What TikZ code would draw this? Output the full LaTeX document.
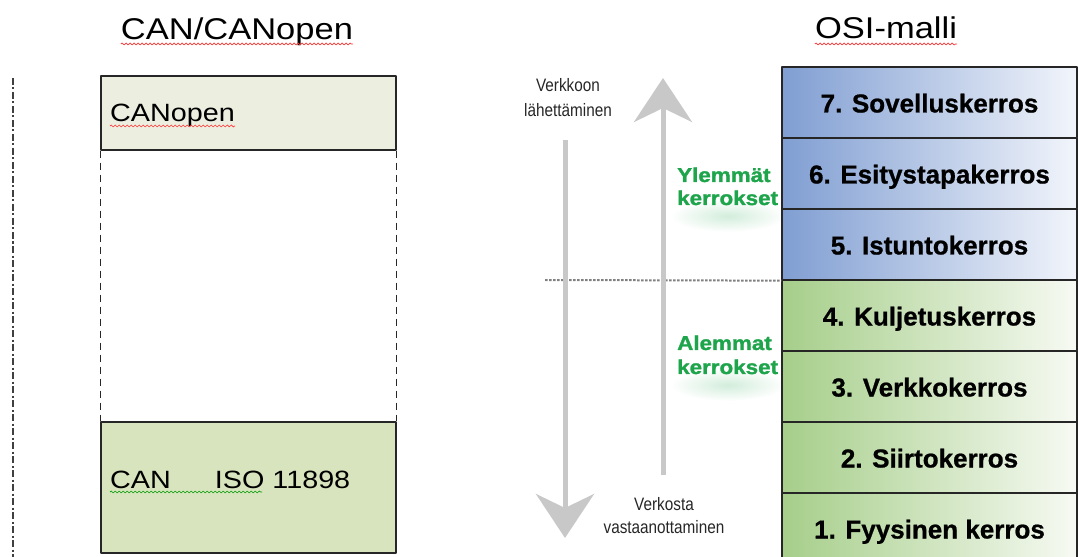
\documentclass[tikz,border=0pt]{standalone}
\usepackage{fontspec}
\setmainfont{Liberation Sans}
\newfontfamily\wideface[FakeStretch=1.15]{Liberation Sans}
\newfontfamily\narrowface[FakeStretch=0.85]{Liberation Sans}
\newfontfamily\heavyface[FakeStretch=1.12,FakeBold=1.5]{Liberation Sans Bold}
\newfontfamily\layerface[FakeBold=0.8]{Liberation Sans Bold}
\usetikzlibrary{arrows.meta,decorations.pathmorphing}
\definecolor{canopenfill}{RGB}{236,238,223}
\definecolor{canfill}{RGB}{216,228,189}
\definecolor{osiblue}{RGB}{128,158,210}
\definecolor{osiblueend}{RGB}{242,245,251}
\definecolor{osigreen}{RGB}{166,206,138}
\definecolor{osigreenend}{RGB}{247,250,243}
\definecolor{arrowgray}{RGB}{200,200,200}
\definecolor{labelgreen}{RGB}{30,165,75}
\tikzset{
  title/.style={inner sep=0pt,anchor=base,font=\wideface\fontsize{30bp}{36bp}\selectfont},
  boxlabel/.style={inner sep=0pt,anchor=base west,font=\wideface\fontsize{25bp}{30bp}\selectfont},
  canbox/.style={draw=black!85,line width=1.3bp,minimum width=295bp,inner sep=0pt},
  layer/.style={draw=black!85,line width=1.3bp,minimum width=295bp,minimum height=71bp,
    inner sep=0pt,text height=20bp,text depth=0pt,font=\layerface\fontsize{26bp}{30bp}\selectfont},
  upper/.style={layer,left color=osiblue,right color=osiblueend},
  lower/.style={layer,left color=osigreen,right color=osigreenend},
  arrowlbl/.style={inner sep=0pt,anchor=base,text=black!85,font=\narrowface\fontsize{18bp}{22bp}\selectfont},
  greenlbl/.style={inner sep=0pt,anchor=base west,text=labelgreen,font=\heavyface\fontsize{20bp}{24bp}\selectfont},
  bigarrow/.style={draw=arrowgray,line width=5bp,-{Stealth[length=44bp,width=58bp,inset=14bp]}},
  squiggle/.style={decorate,decoration={snake,amplitude=1bp,segment length=4bp},line width=0.7bp},
  boxedge/.style={black!85,line width=1.5bp,dash pattern=on 7bp off 5bp},
}
\begin{document}
\begin{tikzpicture}[x=1bp,y=-1bp,line join=bevel]
\useasboundingbox (0,0) rectangle (1078,557);
\clip (0,0) rectangle (1078,557);
%%
  \coordinate (axtop) at (13,78);
  \coordinate (axbot) at (13,557);
  \draw [black!75,line width=1.6bp,dash pattern=on 7bp off 2.5bp on 2bp off 2.5bp] (axtop) -- (axbot);
%% CAN/CANopen
  \node (cantitle) at (237,40) [title] {CAN/CANopen};
  \node (canopen) at (248.5,113) [canbox,fill=canopenfill,minimum height=74bp] {};
  \node (can) at (248.5,487.5) [canbox,fill=canfill,minimum height=131bp] {};
  \draw [boxedge] (canopen.south west) -- (can.north west);
  \draw [boxedge] (canopen.south east) -- (can.north east);
  \node (canopenlbl) at (110,122) [boxlabel] {CANopen};
  \node (canlbl) at (110,488) [boxlabel] {CAN\hspace{44bp}ISO 11898};
  \draw [squiggle,red!80] ([yshift=-4bp]cantitle.base west) -- ([yshift=-4bp]cantitle.base east);
  \draw [squiggle,red!80] ([yshift=-4bp]canopenlbl.base west) -- ([yshift=-4bp]canopenlbl.base east);
  \draw [squiggle,green!60!black] ([yshift=-4bp]canlbl.base west) -- ([yshift=-4bp,xshift=152bp]canlbl.base west);
%% layer groups
  \shade [inner color=labelgreen!20,outer color=white] (728,216) ellipse [x radius=58bp,y radius=16bp];
  \shade [inner color=labelgreen!20,outer color=white] (728,385) ellipse [x radius=58bp,y radius=16bp];
  \node (upperlbl1) at (677,182) [greenlbl] {Ylemmät};
  \node (upperlbl2) at (677,205) [greenlbl] {kerrokset};
  \node (lowerlbl1) at (677,350) [greenlbl] {Alemmat};
  \node (lowerlbl2) at (677,374) [greenlbl] {kerrokset};
%% OSI-malli
  \node (osititle) at (886,39) [title] {OSI-malli};
  \draw [squiggle,red!80] ([yshift=-5bp]osititle.base west) -- ([yshift=-5bp]osititle.base east);
  \node (l7) at (929.5,102.5) [upper] {7. Sovelluskerros};
  \node (l6) at (929.5,173.5) [upper] {6. Esitystapakerros};
  \node (l5) at (929.5,244.5) [upper] {5. Istuntokerros};
  \node (l4) at (929.5,315.5) [lower] {4. Kuljetuskerros};
  \node (l3) at (929.5,386.5) [lower] {3. Verkkokerros};
  \node (l2) at (929.5,457.5) [lower] {2. Siirtokerros};
  \node (l1) at (929.5,528.5) [lower] {1. Fyysinen kerros};
%% arrows
  \coordinate (sepstart) at (545,280);
  \draw [black!50,line width=2bp,dash pattern=on 2.5bp off 1.5bp] (sepstart) -- (l5.south west);
  \coordinate (sendtop) at (565,140);
  \coordinate (sendtip) at (565,538);
  \coordinate (recvbot) at (663,475);
  \coordinate (recvtip) at (663,78);
  \draw [bigarrow] (sendtop) -- (sendtip);
  \draw [bigarrow] (recvbot) -- (recvtip);
  \node (sendlbl1) at (568,92) [arrowlbl] {Verkkoon};
  \node (sendlbl2) at (568,117) [arrowlbl] {lähettäminen};
  \node (recvlbl1) at (664,510) [arrowlbl] {Verkosta};
  \node (recvlbl2) at (664,533) [arrowlbl] {vastaanottaminen};
%
\end{tikzpicture}
\end{document}
